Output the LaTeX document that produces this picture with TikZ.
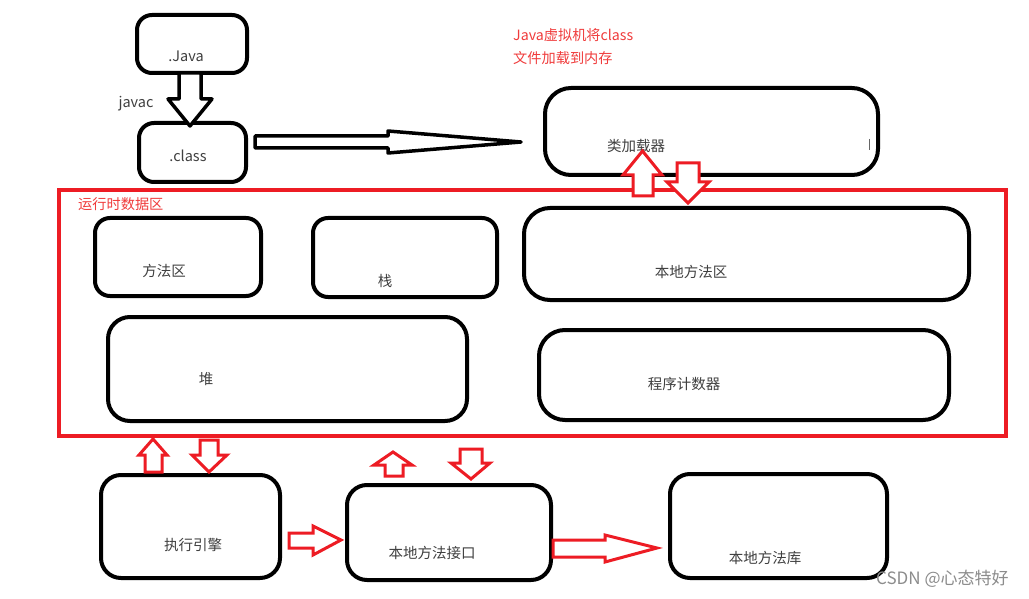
\documentclass[tikz,border=0pt]{standalone}
\usepackage{fontspec}
\setmainfont{Noto Sans CJK SC}
\definecolor{pred}{RGB}{237,28,36}
\definecolor{ptxt}{RGB}{240,60,60}
\begin{document}
\begin{tikzpicture}[x=1pt,y=-1pt,
  box/.style={draw=black,line width=4pt,rounded corners=15pt,inner sep=0pt,minimum width=#1},
  bigbox/.style={box=#1,rounded corners=26pt},
  lbl/.style={text=black!75,font=\fontsize{14.5}{16}\selectfont,inner sep=0pt},
  redlbl/.style={text=ptxt,font=\fontsize{14.2}{16}\selectfont,inner sep=0pt,anchor=west},
  blk/.style={draw=black,line width=3.5pt,line join=round,fill=white},
  redblk/.style={draw=pred,line width=3pt,fill=white,line join=miter}]
\useasboundingbox (0,0) rectangle (1029,599);
\fill[white] (0,0) rectangle (1029,599);

% top boxes
\node[box=110pt,minimum height=58pt] (java) at (192,44) {};
\node[lbl] (javat) at (186,56) {.Java};
\node[box=107pt,minimum height=59pt] (class) at (192.5,152.5) {};
\node[lbl] (classt) at (188,156) {.class};
\node[lbl] (javac) at (136,104) {javac};

% javac arrow
\draw[blk] (179,73) -- (179,99) -- (168,99) -- (190,126) -- (212,99) -- (201,99) -- (201,73) -- cycle;

% big arrow to class loader
\draw[blk] (255,136) -- (388,136) -- (388,131) -- (521,142) -- (388,153) -- (388,148) -- (255,148) -- cycle;

\node[redlbl] (note1) at (513,35) {Java虚拟机将class};
\node[redlbl] (note2) at (513,58) {文件加载到内存};

\node[bigbox=333pt,minimum height=87pt] (loader) at (711.5,131.5) {};
\node[lbl] (loadert) at (636,146) {类加载器};
\draw[black!60,line width=0.8pt] (869,139) -- (869,150);

% runtime data area
\draw[pred,line width=3.5pt] (59,190) rectangle (1006,436);
\node[redlbl] (rtt) at (78,204) {运行时数据区};

\node[box=166pt,minimum height=78pt] (method) at (178,257) {};
\node[lbl] (methodt) at (164,271) {方法区};
\node[box=184pt,minimum height=79pt] (stack) at (405,257.5) {};
\node[lbl] (stackt) at (385,281) {栈};
\node[bigbox=445pt,minimum height=92pt] (nmarea) at (746.5,254) {};
\node[lbl] (nmareat) at (691,272) {本地方法区};
\node[box=359pt,minimum height=104pt,rounded corners=22pt] (heap) at (287.5,369) {};
\node[lbl] (heapt) at (206,379) {堆};
\node[bigbox=410pt,minimum height=90pt] (pc) at (744,375) {};
\node[lbl] (pct) at (684,384) {程序计数器};

% loader arrows
\draw[redblk] (633,196) -- (633,175) -- (623,175) -- (642.5,151) -- (662,175) -- (653,175) -- (653,196) -- cycle;
\draw[redblk] (677,163) -- (677,182) -- (667,182) -- (688,203) -- (709,182) -- (699,182) -- (699,163) -- cycle;

% bottom boxes
\node[box=179pt,minimum height=103pt,rounded corners=20pt] (engine) at (190.5,526.5) {};
\node[lbl] (enginet) at (193,545) {执行引擎};
\node[box=204pt,minimum height=95pt,rounded corners=20pt] (jni) at (449,532.5) {};
\node[lbl] (jnit) at (432,553) {本地方法接口};
\node[box=217pt,minimum height=104pt,rounded corners=20pt] (nlib) at (778.5,526) {};
\node[lbl] (nlibt) at (765,558) {本地方法库};

% engine up/down arrows
\draw[redblk] (145,472) -- (145,455) -- (139,455) -- (153,439) -- (167,455) -- (162,455) -- (162,472) -- cycle;
\draw[redblk] (200,440) -- (200,455) -- (192,455) -- (209,472) -- (227,455) -- (218,455) -- (218,440) -- cycle;

% jni up/down arrows
\draw[redblk] (385,476) -- (385,465) -- (374,465) -- (393,452) -- (412,465) -- (403,465) -- (403,476) -- cycle;
\draw[redblk] (460,449) -- (460,463) -- (451,463) -- (471,479) -- (490,463) -- (482,463) -- (482,449) -- cycle;

% right arrows
\draw[redblk] (289,533) -- (313,533) -- (313,526) -- (341,540) -- (313,555) -- (313,548) -- (289,548) -- cycle;
\draw[redblk] (553,540) -- (605,540) -- (605,535) -- (657,548) -- (605,562) -- (605,557) -- (553,557) -- cycle;

\node[text=black!45,font=\fontsize{17}{19}\selectfont,inner sep=0pt,anchor=west] (wm) at (876,579) {CSDN @心态特好};
\end{tikzpicture}
\end{document}
